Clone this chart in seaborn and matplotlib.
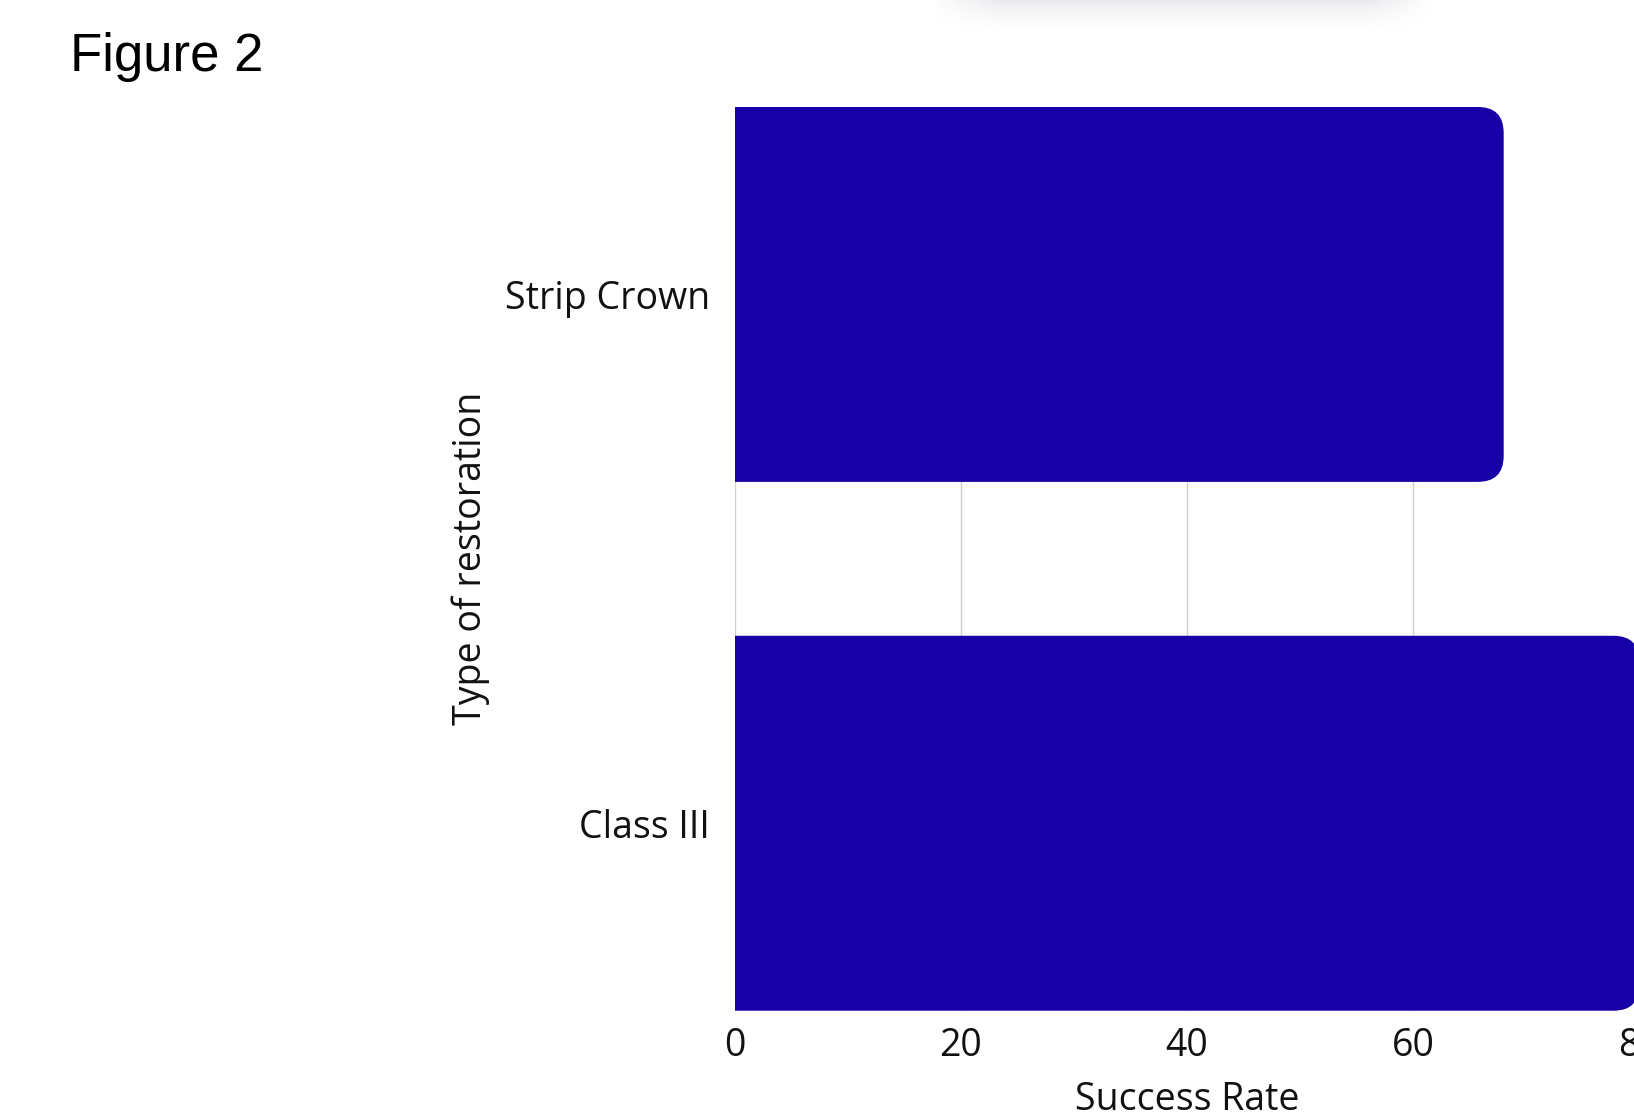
import numpy as np
import pandas as pd
import matplotlib
matplotlib.use("Agg")
import matplotlib.pyplot as plt
import seaborn as sns
from matplotlib.patches import FancyBboxPatch

# Data
categories = ["Strip Crown", "Class III"]
success_rate = [68, 80]
x_ticks = [0, 20, 40, 60, 80]

BAR_COLOR = "#1600A6"

sns.set_theme(style="white")
plt.rcParams["font.family"] = ["Open Sans", "DejaVu Sans"]

df = pd.DataFrame({"Type of restoration": categories, "Success Rate": success_rate})

fig = plt.figure(figsize=(16.34, 11.14), dpi=100)
ax = fig.add_axes([0.4496, 0.0927, 0.5537, 0.8113])

sns.barplot(data=df, x="Success Rate", y="Type of restoration", orient="h",
            color=BAR_COLOR, saturation=1, width=0.709, ax=ax, zorder=3)

ax.set_xlim(0, 80)
ax.set_ylim(1.3545, -0.3545)

# Replace the plain bars with right-rounded bars
fig.canvas.draw()
px_per_x = ax.transData.transform((1, 0))[0] - ax.transData.transform((0, 0))[0]
px_per_y = abs(ax.transData.transform((0, 1))[1] - ax.transData.transform((0, 0))[1])
radius_px = 26
r_x = radius_px / px_per_x
r_y = radius_px / px_per_y
for p in list(ax.patches):
    x0, y0 = p.get_x(), p.get_y()
    w, h = p.get_width(), p.get_height()
    p.remove()
    box = FancyBboxPatch((x0 - 2 * r_x, y0), w + 2 * r_x, h,
                         boxstyle=f"round,pad=0,rounding_size={r_x}",
                         mutation_aspect=r_y / r_x,
                         facecolor=BAR_COLOR, edgecolor="none", zorder=3,
                         clip_on=True)
    ax.add_patch(box)

ax.set_xticks(x_ticks)
ax.grid(axis="x", color="#cfcfcf", linewidth=1.0, zorder=0)
ax.grid(axis="y", visible=False)
for s in ax.spines.values():
    s.set_visible(False)

ax.tick_params(axis="x", length=0, pad=12, labelsize=27, labelcolor="#111111")
ax.tick_params(axis="y", length=0, pad=18, labelsize=27, labelcolor="#111111")
ax.set_xlabel("Success Rate", fontsize=27, color="#111111", labelpad=11)
ax.set_ylabel("Type of restoration", fontsize=27, color="#111111", labelpad=10.5)

fig.text(70 / 1634, 1 - 71 / 1114, "Figure 2", fontsize=38,
         family=["Liberation Sans", "DejaVu Sans"], color="black",
         ha="left", va="baseline")

# Soft shadow strip along the top edge
sh = fig.add_axes([930 / 1634, 1 - 34 / 1114, 505 / 1634, 34 / 1114])
ramp = np.linspace(1.0, 0.0, 60) ** 1.8
grad = 0.20 * ramp[:, None] * np.ones((1, 240))
edge = np.minimum(1, np.minimum(np.linspace(0, 7, 240), np.linspace(7, 0, 240)))
shadow = np.zeros((60, 240, 4))
shadow[..., 0] = 0.55
shadow[..., 1] = 0.55
shadow[..., 2] = 0.64
shadow[..., 3] = grad * edge[None, :]
sh.imshow(shadow, aspect="auto", interpolation="bilinear")
sh.axis("off")

fig.savefig("out.png", dpi=100, facecolor="white")
